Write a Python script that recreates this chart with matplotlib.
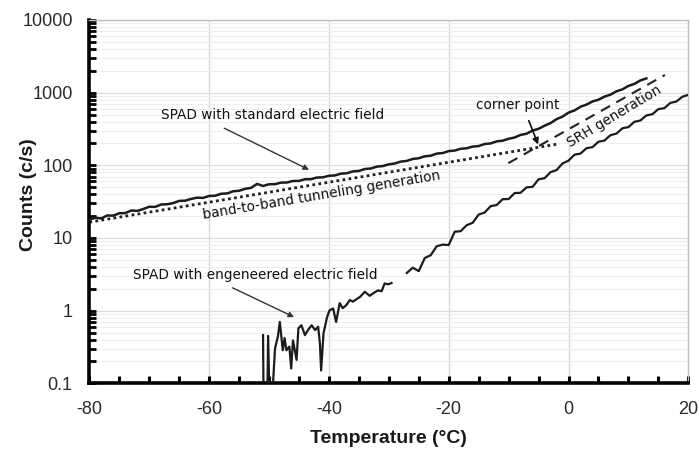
import matplotlib
matplotlib.use("Agg")
import matplotlib.pyplot as plt
from matplotlib.ticker import FixedLocator, MultipleLocator, LogLocator, FuncFormatter, NullFormatter

plt.rcParams["axes.unicode_minus"] = False

# ---------------- data ----------------
std_temp = list(range(-80, 14))
std_counts = [17.9, 19.0, 18.6, 20.4, 20.3, 21.9, 22.0, 23.9, 23.6, 25.0,
              26.9, 26.8, 28.9, 29.1, 30.2, 32.4, 32.6, 34.5, 35.9, 35.6,
              37.9, 38.1, 40.6, 41.0, 43.9, 44.6, 47.5, 48.9, 55.5, 52.0,
              54.9, 55.0, 57.8, 58.0, 60.9, 61.0, 64.3, 64.5, 67.9, 68.3,
              71.8, 72.6, 76.8, 77.8, 82.4, 83.6, 88.9, 90.4, 96.0, 97.6,
              103, 106, 112.5, 115, 122.5, 125, 133, 135.5, 145, 147.5,
              157, 159.5, 169, 171.5, 181, 184, 196.5, 200, 213.5, 218,
              232, 241.5, 262, 272, 301, 317.5, 351, 381, 432, 468,
              531, 569, 639, 685, 756, 799, 882, 938, 1044, 1110,
              1238, 1320, 1473, 1570]

eng1_temp = [-51.0, -50.9, -50.3, -50.15, -49.9, -49.4, -49.0, -48.5, -48.2, -47.7,
             -47.4, -47.1, -46.6, -46.3, -46.0, -45.4, -45.1, -44.6, -44.0, -43.5,
             -42.9, -42.3, -41.8, -41.5, -41.3, -40.9, -40.3, -39.9, -39.3, -38.8,
             -38.2, -37.7, -37.1, -36.5, -36.0, -34.8, -34.0, -33.2, -32.3, -31.8,
             -31.2, -30.7, -30.1, -29.55]
eng1_counts = [0.46, 0.05, 0.05, 0.45, 0.05, 0.08, 0.3, 0.45, 0.70, 0.285,
               0.42, 0.285, 0.32, 0.16, 0.39, 0.21, 0.57, 0.63, 0.46, 0.54,
               0.63, 0.54, 0.60, 0.35, 0.15, 0.49, 0.82, 1.01, 1.07, 0.70,
               1.27, 1.08, 1.19, 1.40, 1.33, 1.55, 1.82, 1.60, 1.80, 1.90,
               1.85, 2.37, 2.30, 2.40]

eng2_temp = list(range(-27, 21))
eng2_counts = [3.3, 3.9, 3.5, 5.3, 5.8, 7.7, 8.1, 8.0, 12.2, 12.4,
               15.0, 16.2, 21.0, 22.4, 27.4, 28.4, 34.2, 34.3, 41.5, 41.9,
               49.8, 50.5, 64.2, 66.5, 80.5, 86.0, 106, 116, 140, 145,
               172, 178, 211, 219, 260, 273, 323, 336, 397, 414,
               486, 505, 593, 612, 723, 753, 877, 933]

btb_temp = [-80, -1.8]
btb_counts = [16.5, 196]
srh_temp = [-10.05, 16.1]
srh_counts = [107, 1750]

x_ticks = [-80, -60, -40, -20, 0, 20]
y_ticks = [0.1, 1, 10, 100, 1000, 10000]
y_tick_labels = ["0.1", "1", "10", "100", "1000", "10000"]

# ---------------- figure ----------------
fig = plt.figure(figsize=(6.99, 4.49), dpi=100)
ax = fig.add_axes([0.1278, 0.1463, 0.8569, 0.8092])
ax.set_yscale("log")
ax.set_xlim(-80, 20)
ax.set_ylim(0.1, 10000)

line_col = "#1c1c1c"
ax.plot(std_temp, std_counts, color=line_col, lw=1.8, zorder=3)
ax.plot(eng1_temp, eng1_counts, color=line_col, lw=1.6, zorder=3)
ax.plot(eng2_temp, eng2_counts, color=line_col, lw=1.6, zorder=3)
ax.plot(btb_temp, btb_counts, color="#222222", lw=2.0, ls=(0, (1, 1.2)), zorder=2)
ax.plot(srh_temp, srh_counts, color="#222222", lw=1.5, ls=(0, (5, 3.5)), zorder=2)

# grid
ax.grid(True, which="major", axis="x", color="#d6d6d6", lw=0.9)
ax.grid(True, which="major", axis="y", color="#dcdcdc", lw=0.9)
ax.grid(True, which="minor", axis="y", color="#eeeeee", lw=0.8)
ax.set_axisbelow(True)

# spines
for s in ("left", "bottom"):
    ax.spines[s].set_color("black")
    ax.spines[s].set_linewidth(2.6)
for s in ("top", "right"):
    ax.spines[s].set_color("#bdbdbd")
    ax.spines[s].set_linewidth(1.0)

# ticks
ax.xaxis.set_major_locator(FixedLocator(x_ticks))
ax.xaxis.set_minor_locator(MultipleLocator(5))
ax.yaxis.set_major_locator(FixedLocator(y_ticks))
ax.yaxis.set_minor_locator(LogLocator(base=10, subs=[2, 3, 4, 5, 6, 7, 8, 9], numticks=20))
ax.yaxis.set_major_formatter(FuncFormatter(lambda v, p: y_tick_labels[y_ticks.index(v)] if v in y_ticks else ""))
ax.yaxis.set_minor_formatter(NullFormatter())
ax.tick_params(axis="both", which="both", direction="in", color="black",
               top=False, right=False)
ax.tick_params(axis="x", which="both", length=5, width=2.2, pad=13)
ax.tick_params(axis="y", which="both", length=5, width=2.0, pad=12)
for lab in ax.get_xticklabels() + ax.get_yticklabels():
    lab.set_fontfamily("Liberation Sans")
    lab.set_fontsize(13)
    lab.set_color("#2a2a2a")

ax.set_xlabel("Temperature (°C)", fontfamily="Liberation Sans", fontsize=14,
              fontweight="bold", color="#1a1a1a")
ax.set_ylabel("Counts (c/s)", fontfamily="Liberation Sans", fontsize=14,
              fontweight="bold", color="#1a1a1a")
ax.xaxis.set_label_coords(0.5, -0.128)
ax.yaxis.set_label_coords(-0.088, 0.52)

# annotations
ann_font = dict(family="DejaVu Sans", size=9.8, color="#111111")
ax.text(-49.4, 500, "SPAD with standard electric field", ha="center", va="center", **ann_font)
ax.annotate("", xy=(-42.9, 83.5), xytext=(-57.9, 337),
            arrowprops=dict(arrowstyle="-|>", color="#333333", lw=1.0, mutation_scale=8))
ax.text(-8.5, 677, "corner point", ha="center", va="center", **ann_font)
ax.annotate("", xy=(-4.9, 178), xytext=(-6.8, 447),
            arrowprops=dict(arrowstyle="-|>", color="#111111", lw=1.2, mutation_scale=9))
ax.text(7.6, 468, "SRH generation", ha="center", va="center", rotation=31,
        rotation_mode="anchor", **ann_font)
ax.text(-41.2, 38.5, "band-to-band tunneling generation", ha="center", va="center",
        rotation=9.5, rotation_mode="anchor", **ann_font)
ax.text(-52.3, 3.09, "SPAD with engeneered electric field", ha="center", va="center", **ann_font)
ax.annotate("", xy=(-45.4, 0.785), xytext=(-56.5, 2.14),
            arrowprops=dict(arrowstyle="-|>", color="#333333", lw=1.0, mutation_scale=8))

fig.savefig("out.png", dpi=100)
